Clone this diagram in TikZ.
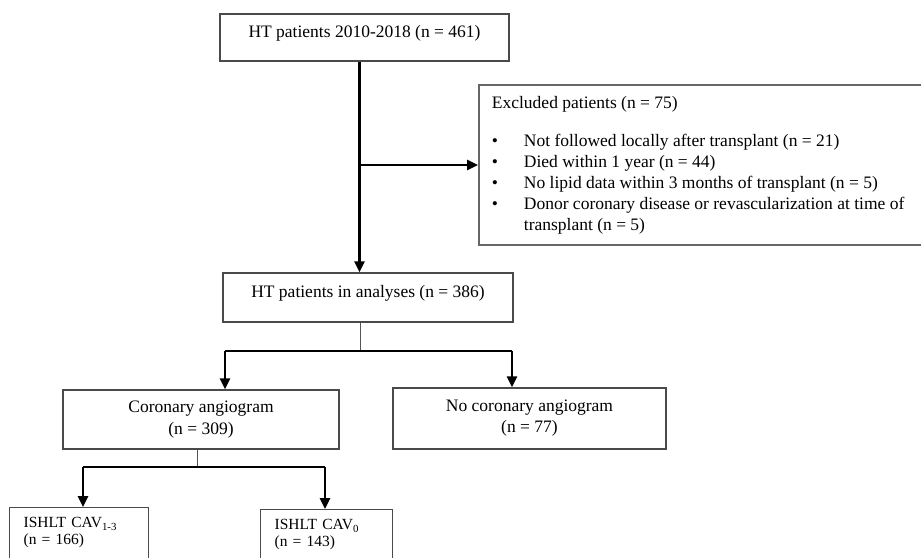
\documentclass[tikz,border=0pt]{standalone}
\usepackage{fontspec}
\setmainfont{Liberation Serif}
\usetikzlibrary{arrows.meta}
\definecolor{boxgray}{HTML}{4A4A4A}
\definecolor{exclgray}{HTML}{666666}
\definecolor{stubgray}{HTML}{555555}

\begin{document}
\begin{tikzpicture}[x=1pt, y=-1pt,
	every node/.style={font=\fontsize{17.5}{21}\selectfont},
	>={Triangle[length=11pt, width=10pt]},
	box/.style={draw=boxgray, line width=1.3pt, inner sep=0pt},
	onebox/.style={box, text height=9pt, text depth=9pt},
	twobox/.style={box, align=center},
	subbox/.style={box, anchor=north west, align=left, inner xsep=14pt, inner ysep=10pt, text depth=24pt, font=\fontsize{15.5}{17}\selectfont},
	link/.style={line width=2.6pt, ->},
	stub/.style={line width=1pt, stubgray},
	bar/.style={line width=1.8pt}]
	\useasboundingbox (0,0) rectangle (921,557);
	\node[onebox, minimum width=289pt, minimum height=47pt] (ht) at (364.5,37.5) {HT patients 2010-2018 (n = 461)};
	\node[box, draw=exclgray, line width=1.8pt, anchor=west, align=left, inner xsep=13pt, minimum height=160pt] (excl) at (478,165) {Excluded patients (n = 75)\\[16.9pt]
		\makebox[32pt][l]{\textbullet}Not followed locally after transplant (n = 21)\\
		\makebox[32pt][l]{\textbullet}Died within 1 year (n = 44)\\
		\makebox[32pt][l]{\textbullet}No lipid data within 3 months of transplant (n = 5)\\
		\makebox[32pt][l]{\textbullet}Donor coronary disease or revascularization at time of\rule{24pt}{0pt}\\
		\hspace*{32pt}transplant (n = 5)};
	\node[onebox, minimum width=290pt, minimum height=49pt] (analysis) at (368,297.5) {HT patients in analyses (n = 386)};
	\node[twobox, minimum width=276pt, minimum height=59pt, font=\fontsize{17.5}{22}\selectfont] (coro) at (201,419.5) {Coronary angiogram\\(n = 309)};
	\node[twobox, minimum width=273pt, minimum height=61pt] (nocoro) at (529.5,418.5) {No coronary angiogram\\(n = 77)};
	\node[subbox, text width=111pt] (cavpos) at (9,507) {ISHLT CAV\textsubscript{1-3}\\(n = 166)};
	\node[subbox, text width=104pt] (cavzero) at (260,509) {ISHLT CAV\textsubscript{0}\\(n = 143)};

	\coordinate (spine) at (359.5,0);
	\draw[link] (ht.south -| spine) -- (analysis.north -| spine);
	\draw[link] (excl.west -| spine) -- (excl.west);

	\coordinate (fork) at (360,351);
	\coordinate (forkL) at (225,351);
	\coordinate (forkR) at (512,351);
	\draw[stub] (analysis.south -| fork) -- (fork);
	\draw[bar] (forkL) -- (forkR);
	\draw[link] (forkL) -- (forkL |- coro.north);
	\draw[link] (forkR) -- (forkR |- nocoro.north);

	\coordinate (subfork) at (197,467);
	\coordinate (subforkL) at (83,467);
	\coordinate (subforkR) at (325,467);
	\draw[stub] (coro.south -| subfork) -- (subfork);
	\draw[bar] (subforkL) -- (subforkR);
	\draw[link] (subforkL) -- (subforkL |- cavpos.north);
	\draw[link] (subforkR) -- (subforkR |- cavzero.north);
\end{tikzpicture}
\end{document}
